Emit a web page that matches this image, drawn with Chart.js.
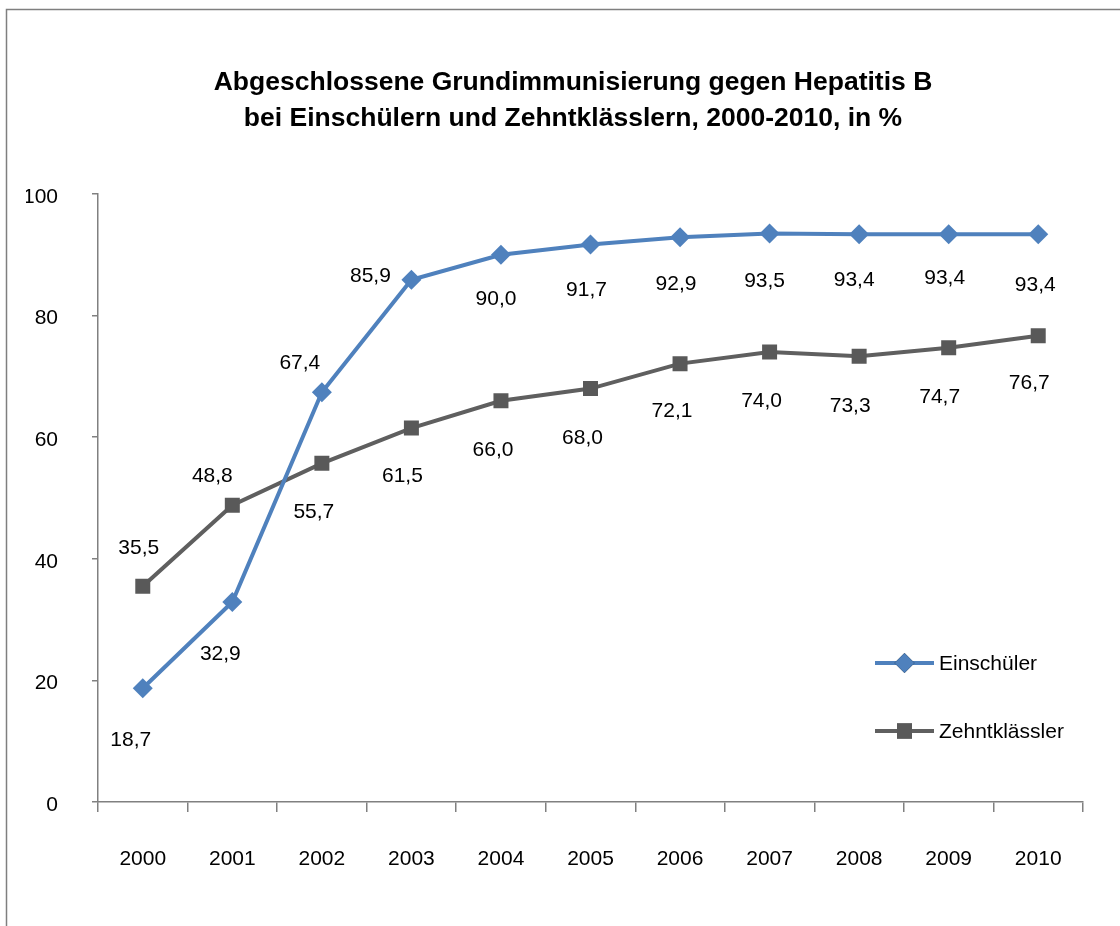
<!DOCTYPE html>
<html>
<head>
<meta charset="utf-8">
<script src="https://cdn.jsdelivr.net/npm/chart.js@4/dist/chart.umd.min.js"></script>
<style>
  html, body { margin: 0; padding: 0; background: #ffffff; }
  #wrap { position: relative; width: 1120px; height: 926px; }
</style>
</head>
<body>
<div id="wrap"><canvas id="c" width="1120" height="926"></canvas></div>
<script>
// ---- data ----
const years = ['2000','2001','2002','2003','2004','2005','2006','2007','2008','2009','2010'];
const einschueler = [18.7, 32.9, 67.4, 85.9, 90.0, 91.7, 92.9, 93.5, 93.4, 93.4, 93.4];
const zehntklaessler = [35.5, 48.8, 55.7, 61.5, 66.0, 68.0, 72.1, 74.0, 73.3, 74.7, 76.7];
const seriesNames = ['Einschüler', 'Zehntklässler'];
const yTicks = [0, 20, 40, 60, 80, 100];
const titleLines = ['Abgeschlossene Grundimmunisierung gegen Hepatitis B', 'bei Einschülern und Zehntklässlern, 2000-2010, in %'];

// ---- label placement (layout only) ----
const einLabelOffsets = [[-12,52],[-12,52],[-22,-29],[-41,-4],[-5,44],[-4,46],[-4,47],[-5,48],[-5,46],[-4,44],[-3,51]];
const zehnLabelOffsets = [[-4,-38],[-20,-29],[-8,49],[-9,48],[-8,49],[-8,50],[-8,48],[-8,49],[-9,50],[-9,49],[-9,48]];

const FONT = '"Liberation Sans", Arial, sans-serif';
const FS = 21;
const BLUE = '#4F81BD';
const GRAY = '#5F5F5F';
const AXIS = '#808080';

const framePlugin = {
  id: 'frame',
  beforeDraw(chart) {
    const ctx = chart.ctx;
    ctx.save();
    ctx.fillStyle = '#ffffff';
    ctx.fillRect(0, 0, chart.width, chart.height);
    ctx.strokeStyle = '#7f7f7f';
    ctx.lineWidth = 1.5;
    ctx.beginPath();
    ctx.moveTo(6.5, chart.height);
    ctx.lineTo(6.5, 9.5);
    ctx.lineTo(chart.width, 9.5);
    ctx.stroke();
    ctx.restore();
  }
};

const dataLabelPlugin = {
  id: 'dataLabels',
  afterDatasetsDraw(chart) {
    const ctx = chart.ctx;
    const offs = [einLabelOffsets, zehnLabelOffsets];
    ctx.save();
    ctx.font = FS + 'px ' + FONT;
    ctx.fillStyle = '#000000';
    ctx.textAlign = 'center';
    ctx.textBaseline = 'middle';
    chart.data.datasets.forEach((ds, di) => {
      const meta = chart.getDatasetMeta(di);
      meta.data.forEach((pt, i) => {
        const o = offs[di][i];
        const txt = ds.data[i].toFixed(1).replace('.', ',');
        ctx.fillText(txt, pt.x + o[0], pt.y + o[1]);
      });
    });
    ctx.restore();
  }
};

const legendPlugin = {
  id: 'sideLegend',
  afterDraw(chart) {
    const ctx = chart.ctx;
    const items = chart.data.datasets;
    const x0 = 875, x1 = 934, ys = [663, 731];
    ctx.save();
    items.forEach((ds, i) => {
      const y = ys[i];
      ctx.strokeStyle = ds.borderColor;
      ctx.lineWidth = 4;
      ctx.beginPath();
      ctx.moveTo(x0, y);
      ctx.lineTo(x1, y);
      ctx.stroke();
      Chart.helpers.drawPoint(ctx, {
        pointStyle: ds.pointStyle,
        radius: ds.pointRadius,
        rotation: 0,
        borderWidth: 0
      }, (x0 + x1) / 2, y);
      ctx.fillStyle = ds.pointBackgroundColor;
      ctx.fill();
      ctx.fillStyle = '#000000';
      ctx.font = FS + 'px ' + FONT;
      ctx.textAlign = 'left';
      ctx.textBaseline = 'middle';
      ctx.fillText(ds.label, 939, y + 1);
    });
    ctx.restore();
  }
};

new Chart(document.getElementById('c'), {
  type: 'line',
  data: {
    labels: years,
    datasets: [
      {
        label: seriesNames[0],
        data: einschueler,
        borderColor: BLUE,
        backgroundColor: BLUE,
        pointBackgroundColor: BLUE,
        pointBorderColor: BLUE,
        borderWidth: 4,
        pointStyle: 'rectRot',
        pointRadius: 10,
        pointBorderWidth: 0,
        tension: 0,
        yAxisID: 'y'
      },
      {
        label: seriesNames[1],
        data: zehntklaessler,
        borderColor: GRAY,
        backgroundColor: GRAY,
        pointBackgroundColor: '#595959',
        pointBorderColor: '#595959',
        borderWidth: 4,
        pointStyle: 'rect',
        pointRadius: 10.6,
        pointBorderWidth: 0,
        tension: 0,
        yAxisID: 'y'
      }
    ]
  },
  options: {
    responsive: false,
    animation: false,
    devicePixelRatio: 1,
    layout: { padding: { left: 26, right: 0, top: 0, bottom: 0 } },
    plugins: {
      legend: { display: false },
      tooltip: { enabled: false },
      title: {
        display: true,
        text: titleLines,
        color: '#000000',
        font: { family: FONT, size: 26.5, weight: 'bold', lineHeight: '36px' },
        padding: { top: 65, bottom: 57 }
      }
    },
    scales: {
      x: {
        type: 'category',
        offset: true,
        grid: { display: true, offset: true, drawOnChartArea: false, drawTicks: true, tickLength: 10, color: AXIS, lineWidth: 1.5 },
        border: { display: true, color: AXIS, width: 1.5 },
        ticks: { color: '#000000', font: { family: FONT, size: FS }, padding: 35, maxRotation: 0, autoSkip: false },
        afterFit(scale) { scale.height = 124; }
      },
      y: {
        position: 'left',
        min: 0,
        max: 100,
        afterBuildTicks(scale) { scale.ticks = yTicks.map(v => ({ value: v })); },
        grid: { display: true, drawOnChartArea: false, drawTicks: true, tickLength: 6, color: AXIS, lineWidth: 1.5 },
        border: { display: true, color: AXIS, width: 1.5 },
        ticks: { color: '#000000', font: { family: FONT, size: FS }, padding: 34, labelOffset: 3 },
        afterFit(scale) { scale.width = 72; }
      },
      yRight: {
        type: 'linear',
        position: 'right',
        display: true,
        min: 0,
        max: 100,
        grid: { display: false, drawTicks: false },
        border: { display: false },
        ticks: { display: false },
        afterFit(scale) { scale.width = 37; }
      }
    }
  },
  plugins: [framePlugin, dataLabelPlugin, legendPlugin]
});
</script>
</body>
</html>
